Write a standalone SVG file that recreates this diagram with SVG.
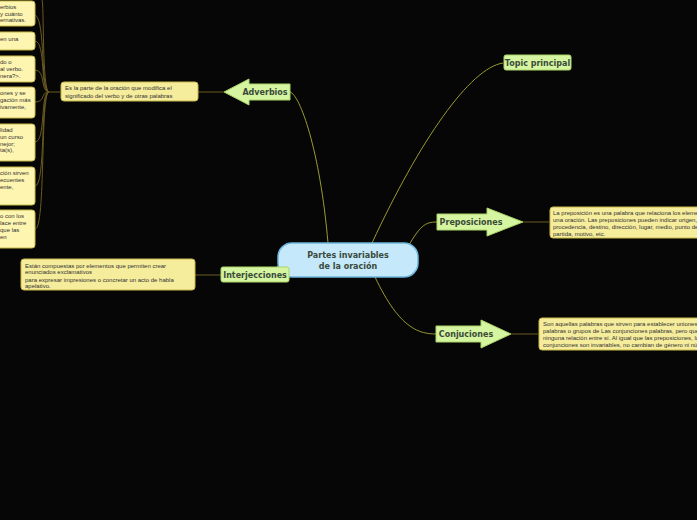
<svg xmlns="http://www.w3.org/2000/svg" width="697" height="520" viewBox="0 0 697 520">
<style>
.t{font-family:"Liberation Sans",Arial,sans-serif;font-size:6px;fill:#333}
.b{font-family:"DejaVu Sans",sans-serif;font-size:8px;font-weight:bold;fill:#3a4a3a}
.note{fill:#f5ec9c;stroke:#c8b84a;stroke-width:1}
.leaf{fill:#fdf5b0;stroke:#c8b84a;stroke-width:1}
.arr{fill:#d6f5a0;stroke:#a9d46a;stroke-width:1}
.c{fill:none;stroke:#9a9a30;stroke-width:1}
.cl{fill:none;stroke:#6b5a20;stroke-width:1}
</style>
<rect width="697" height="520" fill="#060606"/>
<g id="connectors">
<path class="c" d="M328,243 C320,150 300,95 290,92"/>
<path class="c" d="M372,243 C420,140 470,68 503,63"/>
<path class="c" d="M405,252 C420,225 425,222 437,222"/>
<path class="c" d="M375,277 C400,330 420,334 437,334"/>
<path class="c" d="M280,265 C270,272 260,275 290,275"/>
<path class="cl" d="M194,275 L222,275"/>
<path class="cl" d="M198,92 L224,92"/>
<path class="cl" d="M523,222 L549,222"/>
<path class="cl" d="M511,334 L538,334"/>
<path class="cl" d="M60,92 L49,92"/>
<path class="cl" d="M49,92 C40,92 46,20 35,15 M49,92 C40,92 46,42 35,41 M49,92 C40,92 46,70 35,70 M49,92 C40,92 46,102 35,102 M49,92 C40,92 46,142 35,142 M49,92 C40,92 46,186 35,186 M49,92 C40,92 46,229 35,229 M49,92 C42,92 44,0 42,0"/>
</g>
<g id="center"><rect x="278" y="243" width="140" height="34" rx="14" fill="#c5e8fb" stroke="#6fb5dc" stroke-width="1.5"/><text class="b" x="348" y="258" text-anchor="middle" font-size="9" fill="#222">Partes invariables</text><text class="b" x="348" y="269" text-anchor="middle" font-size="9" fill="#222">de la oración</text></g>
<g id="topic"><rect x="504" y="55" width="67" height="15" rx="2" class="arr"/><text class="b" x="537.5" y="66" text-anchor="middle">Topic principal</text></g>
<g id="adverbios"><polygon class="arr" points="224,92 249,79 249,84 290,84 290,100 249,100 249,105"/><text class="b" x="265" y="95" text-anchor="middle">Adverbios</text></g>
<g id="adv-note"><rect x="61" y="82" width="137" height="19" rx="3" class="note"/><text class="t" x="65" y="90">Es la parte de la oración que modifica el</text><text class="t" x="65" y="98">significado del verbo y de otras palabras</text></g>
<g id="preposiciones"><polygon class="arr" points="437,214 487,214 487,208 523,222 487,236 487,230 437,230"/><text class="b" x="471" y="225" text-anchor="middle">Preposiciones</text></g>
<g id="prep-note"><rect x="550" y="207" width="160" height="31" rx="3" class="note"/><text class="t" x="553" y="215">La preposición es una palabra que relaciona los elementos de</text><text class="t" x="553" y="222">una oración. Las preposiciones pueden indicar origen,</text><text class="t" x="553" y="229">procedencia, destino, dirección, lugar, medio, punto de</text><text class="t" x="553" y="236">partida, motivo, etc.</text></g>
<g id="conjuciones"><polygon class="arr" points="436,326 481,326 481,320 511,334 481,348 481,342 436,342"/><text class="b" x="466" y="337" text-anchor="middle">Conjuciones</text></g>
<g id="conj-note"><rect x="539" y="318" width="170" height="32" rx="3" class="note"/><text class="t" x="543" y="326">Son aquellas palabras que sirven para establecer uniones entre</text><text class="t" x="543" y="333">palabras o grupos de Las conjunciones palabras, pero que no guardan</text><text class="t" x="543" y="340">ninguna relación entre sí. Al igual que las preposiciones, las</text><text class="t" x="543" y="347">conjunciones son invariables, no cambian de género ni número.</text></g>
<g id="interjecciones"><rect x="221" y="267" width="68" height="15" rx="2" class="arr"/><text class="b" x="255" y="278" text-anchor="middle">Interjecciones</text></g>
<g id="interj-note"><rect x="21" y="259" width="174" height="31" rx="3" class="note"/><text class="t" x="25" y="268">Están compuestas por elementos que permiten crear</text><text class="t" x="25" y="274">enunciados exclamativos</text><text class="t" x="25" y="282"> para expresar impresiones o concretar un acto de habla</text><text class="t" x="25" y="288">apelativo.</text></g>
<g id="leaf1"><rect x="-10" y="1" width="45" height="25" rx="3" class="leaf"/><text class="t" x="0" y="9">erbios</text><text class="t" x="0" y="16">y cuánto</text><text class="t" x="0" y="22">ernativas.</text></g>
<g id="leaf2"><rect x="-10" y="32" width="45" height="18" rx="3" class="leaf"/><text class="t" x="0" y="41">en una</text></g>
<g id="leaf3"><rect x="-10" y="56" width="45" height="26" rx="3" class="leaf"/><text class="t" x="0" y="64">do o</text><text class="t" x="0" y="71">al verbo.</text><text class="t" x="0" y="78">nera?&gt;.</text></g>
<g id="leaf4"><rect x="-10" y="87" width="45" height="31" rx="3" class="leaf"/><text class="t" x="0" y="95">ones y se</text><text class="t" x="0" y="102">gación más</text><text class="t" x="0" y="109">ivamente,</text></g>
<g id="leaf5"><rect x="-10" y="124" width="45" height="37" rx="3" class="leaf"/><text class="t" x="0" y="132">lidad</text><text class="t" x="0" y="139">un curso</text><text class="t" x="0" y="146">nejor;</text><text class="t" x="0" y="152">ta(s),</text></g>
<g id="leaf6"><rect x="-10" y="167" width="45" height="38" rx="3" class="leaf"/><text class="t" x="0" y="175">ción sirven</text><text class="t" x="0" y="182">ecuentes</text><text class="t" x="0" y="189">ente,</text></g>
<g id="leaf7"><rect x="-10" y="210" width="45" height="38" rx="3" class="leaf"/><text class="t" x="0" y="218">o con los</text><text class="t" x="0" y="225">lace entre</text><text class="t" x="0" y="232">que las</text><text class="t" x="0" y="239">en</text></g>
</svg>
